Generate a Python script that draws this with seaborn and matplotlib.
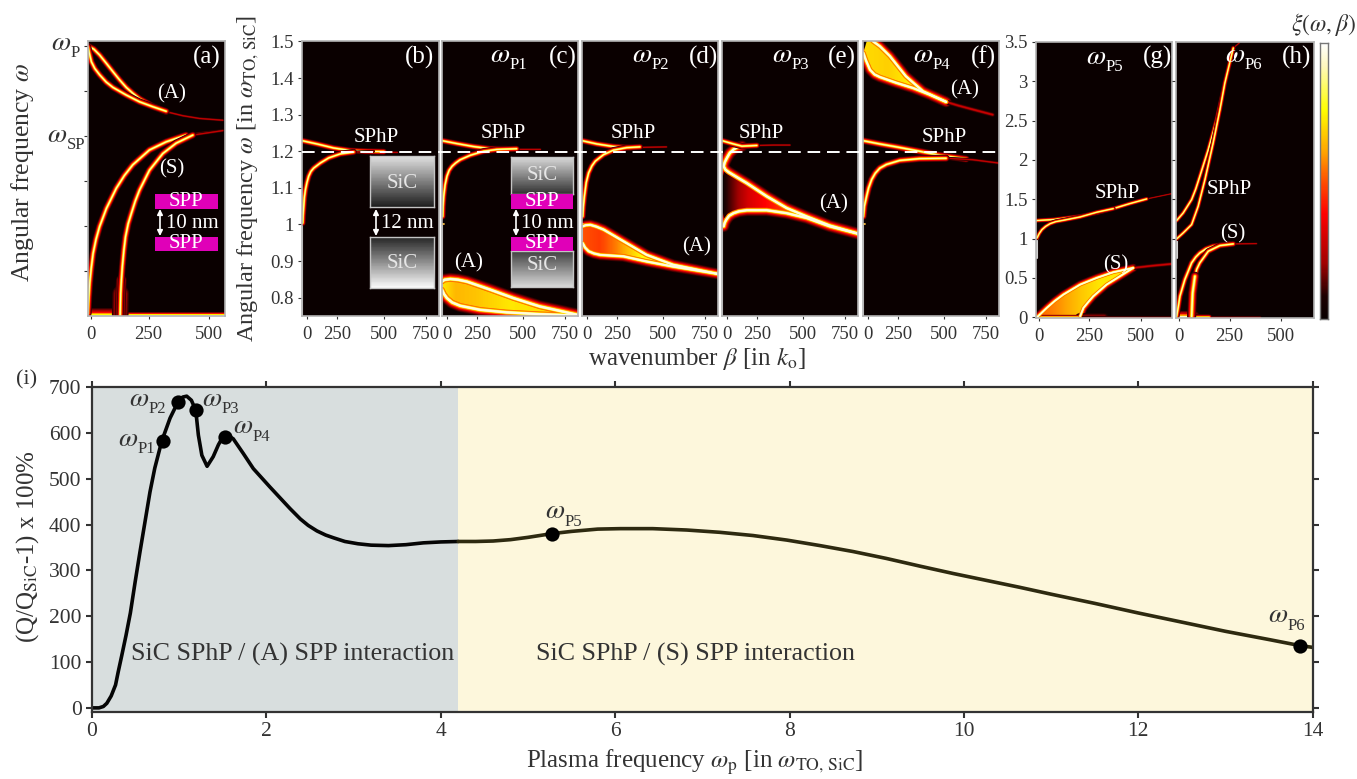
import numpy as np
import matplotlib
matplotlib.use('Agg')
import matplotlib.pyplot as plt
from matplotlib.colors import LinearSegmentedColormap
from matplotlib.lines import Line2D
from matplotlib.patches import FancyArrowPatch, Polygon, Rectangle
import seaborn as sns

W, H = 1357, 779

# panel (a), y in ticks of the unlabelled axis (wP = 6, wSP = 4)
a_a1_x = [0, 24, 48, 75, 103, 130, 158, 185, 213, 268, 323, 392, 460, 557]
a_a1_y = [6.0, 5.93, 5.80, 5.62, 5.43, 5.25, 5.08, 4.95, 4.83, 4.66, 4.54, 4.45, 4.39, 4.35]
a_a2_x = [0, 5, 14, 28, 48, 75, 103, 158, 213, 268, 323]
a_a2_y = [5.98, 5.85, 5.65, 5.50, 5.36, 5.20, 5.08, 4.91, 4.76, 4.65, 4.55]
a_s1_x = [0, 3, 7, 13, 21, 33, 48, 76, 117, 150, 185, 254, 323, 405, 488, 557]
a_s1_y = [0.05, 0.40, 0.73, 1.05, 1.39, 1.70, 1.99, 2.39, 2.84, 3.12, 3.36, 3.69, 3.87, 4.02, 4.08, 4.12]
a_s2_x = [133, 135, 138, 142, 148, 155, 166, 179, 195, 213, 254, 309, 364, 433, 557]
a_s2_y = [0.02, 0.50, 0.80, 1.10, 1.45, 1.76, 2.05, 2.28, 2.55, 2.80, 3.24, 3.61, 3.84, 4.02, 4.12]

# panels (b)-(f): x in axis units 0-800, y in omega
b_u_x = [0, 88, 185, 283, 380, 478, 556]
b_u_y = [1.229, 1.220, 1.209, 1.202, 1.200, 1.199, 1.199]
b_l_x = [4, 6, 10, 14, 20, 29, 39, 52, 68, 107, 156, 224, 302, 419]
b_l_y = [1.004, 1.025, 1.050, 1.075, 1.095, 1.115, 1.132, 1.145, 1.154, 1.168, 1.182, 1.193, 1.198, 1.200]

c_u_x = [0, 88, 185, 283, 380, 478, 575]
c_u_y = [1.229, 1.221, 1.213, 1.207, 1.207, 1.207, 1.207]
c_l_x = [4, 6, 10, 18, 29, 42, 59, 80, 107, 166, 244, 322, 439]
c_l_y = [1.022, 1.050, 1.077, 1.108, 1.132, 1.148, 1.159, 1.168, 1.177, 1.189, 1.200, 1.205, 1.207]
c_a1_x = [0, 15, 49, 95, 146, 283, 419, 575, 800]
c_a1_y = [0.844, 0.849, 0.851, 0.849, 0.844, 0.822, 0.799, 0.776, 0.753]
c_a2_x = [0, 12, 29, 60, 107, 224, 380, 575, 800]
c_a2_y = [0.822, 0.810, 0.799, 0.787, 0.778, 0.767, 0.760, 0.755, 0.751]
c_fill_x = [0, 80, 200, 400, 800]
c_fill_v = [0.72, 0.64, 0.66, 0.72, 0.70]

d_u_x = [0, 88, 185, 283, 380, 497]
d_u_y = [1.229, 1.220, 1.213, 1.210, 1.211, 1.212]
d_l_x = [4, 8, 14, 25, 39, 58, 78, 127, 185, 263, 341]
d_l_y = [1.022, 1.050, 1.077, 1.115, 1.141, 1.160, 1.173, 1.191, 1.203, 1.210, 1.212]
d_a1_x = [4, 22, 49, 85, 127, 244, 380, 536, 800]
d_a1_y = [0.995, 0.998, 0.999, 0.994, 0.986, 0.954, 0.917, 0.890, 0.865]
d_a2_x = [4, 18, 39, 70, 107, 244, 380, 536, 800]
d_a2_y = [0.949, 0.937, 0.927, 0.921, 0.917, 0.913, 0.899, 0.885, 0.865]
d_fill_x = [0, 100, 200, 350, 800]
d_fill_v = [0.50, 0.47, 0.56, 0.76, 0.80]

e_u_x = [0, 68, 117, 205, 302, 400]
e_u_y = [1.229, 1.220, 1.214, 1.216, 1.217, 1.217]
e_a1_x = [117, 90, 68, 45, 29, 16, 10, 20, 39, 85, 146, 263, 380, 497, 634, 800]
e_a1_y = [1.214, 1.211, 1.205, 1.195, 1.182, 1.170, 1.159, 1.150, 1.143, 1.130, 1.113, 1.077, 1.045, 1.022, 0.997, 0.975]
e_a2_x = [10, 16, 25, 42, 68, 100, 146, 263, 380, 497, 634, 800]
e_a2_y = [0.995, 1.005, 1.013, 1.024, 1.031, 1.036, 1.039, 1.039, 1.031, 1.018, 0.995, 0.975]
e_fill_x = [0, 60, 150, 300, 500, 800]
e_fill_v = [0.05, 0.15, 0.30, 0.42, 0.60, 0.75]

f_u_x = [0, 99, 197, 333, 450, 607, 796]
f_u_y = [1.229, 1.220, 1.212, 1.200, 1.189, 1.179, 1.168]
f_l_x = [2, 8, 21, 33, 51, 72, 99, 138, 216, 333, 489, 645, 796]
f_l_y = [1.022, 1.050, 1.077, 1.100, 1.123, 1.140, 1.154, 1.164, 1.175, 1.180, 1.181, 1.177, 1.168]
f_a1_x = [31, 60, 99, 158, 252, 353, 489]
f_a1_y = [1.515, 1.500, 1.487, 1.460, 1.405, 1.364, 1.335]
f_a2_x = [2, 18, 41, 68, 99, 197, 294, 392, 489]
f_a2_y = [1.469, 1.448, 1.423, 1.410, 1.403, 1.387, 1.373, 1.355, 1.335]
f_tail_x = [489, 560, 640, 763]
f_tail_y = [1.335, 1.325, 1.315, 1.300]
f_fill_x = [0, 150, 300, 500]
f_fill_v = [0.70, 0.68, 0.74, 0.78]

# panels (g), (h)
g_u_x = [-11, 75, 205, 286, 367, 448, 530, 654]
g_u_y = [1.229, 1.242, 1.284, 1.326, 1.381, 1.445, 1.504, 1.572]
g_l_x = [-6, 5, 18, 36, 58, 85, 123, 205, 286, 367]
g_l_y = [1.008, 1.065, 1.114, 1.155, 1.190, 1.215, 1.233, 1.275, 1.335, 1.381]
g_s1_x = [-6, 42, 80, 123, 205, 286, 367, 464]
g_s1_y = [0.0, 0.119, 0.205, 0.288, 0.415, 0.500, 0.572, 0.627]
g_s2_x = [205, 221, 245, 269, 334, 399, 464]
g_s2_y = [0.013, 0.119, 0.195, 0.267, 0.415, 0.521, 0.627]
g_tail_x = [464, 560, 654]
g_tail_y = [0.627, 0.655, 0.678]
g_fill_x = [0, 100, 200, 300, 654]
g_fill_v = [0.52, 0.58, 0.66, 0.72, 0.74]

h_u_x = [-8, 24, 65, 85, 105, 146, 187, 227, 268, 297]
h_u_y = [1.229, 1.326, 1.496, 1.630, 1.792, 2.131, 2.513, 2.979, 3.424, 3.487]
h_l_x = [-8, 24, 65, 97, 130, 170, 203, 227, 268, 297]
h_l_y = [0.996, 1.072, 1.178, 1.411, 1.750, 2.216, 2.640, 2.979, 3.424, 3.487]
h_s1_x = [-8, 0, 8, 32, 65, 85, 105, 135, 170, 252, 381]
h_s1_y = [0.01, 0.130, 0.267, 0.479, 0.691, 0.765, 0.818, 0.870, 0.903, 0.932, 0.936]
h_s2_x = [65, 70, 81, 90, 105, 146, 203, 268]
h_s2_y = [0.01, 0.309, 0.521, 0.610, 0.691, 0.839, 0.911, 0.932]

# panel (i)
i_left_x = [0, 0.08, 0.13, 0.17, 0.22, 0.27, 0.30, 0.34, 0.39, 0.44, 0.495, 0.55, 0.608, 0.665, 0.72, 0.80, 0.895,
            0.985, 1.04, 1.086, 1.14, 1.19, 1.22, 1.26, 1.32, 1.39, 1.45, 1.506, 1.56, 1.62, 1.735, 1.85, 2.04,
            2.27, 2.39, 2.48, 2.58, 2.68, 2.77, 2.9, 3.05, 3.2, 3.4, 3.6, 3.8, 4.0, 4.2]
i_left_y = [0, 0, 3, 10, 26, 50, 78, 113, 158, 207, 275, 340, 406, 471, 523, 582, 632,
            667, 678, 680, 671, 649, 595, 551, 527, 548, 574, 593, 594, 587, 555, 522, 482,
            435, 412, 398, 386, 377, 371, 363, 358, 355, 354, 356, 360, 362, 363]
i_right_x = [4.2, 4.4, 4.6, 4.8, 5.0, 5.27, 5.5, 5.8, 6.06, 6.43, 6.82, 7.2, 7.58, 7.97, 8.35, 8.73, 9.11, 9.5,
             9.88, 10.26, 10.64, 11.0, 11.5, 12.0, 12.5, 13.0, 13.5, 13.85, 14.0]
i_right_y = [363, 363, 364, 367, 372, 380, 385, 390, 391, 391, 388, 383, 376, 366, 354, 341, 326, 309,
             293, 278, 263, 248, 228, 207, 187, 167, 149, 136, 132]
omega_p_x = [0.81, 0.985, 1.19, 1.52, 5.27, 13.85]
omega_p_y = [582, 668, 650, 592, 380, 136]
i_x_ticks = [0, 2, 4, 6, 8, 10, 12, 14]
i_y_ticks = [0, 100, 200, 300, 400, 500, 600, 700]

heat_stops = [0.0, 0.08, 0.2, 0.38, 0.5, 0.6, 0.76, 0.92, 1.0]
heat_colors = ['#080000', '#1c0000', '#a00000', '#ff0000', '#ff5000', '#ffa000', '#ffff00', '#fff8c0', '#ffffff']
glow_widths = [6.0, 5.2, 4.4, 3.8, 3.2, 2.6, 2.0, 1.4, 0.9]
glow_levels = [0.10, 0.15, 0.20, 0.30, 0.38, 0.50, 0.62, 0.76, 0.92]
fade_widths = [2.6, 1.9, 1.3, 0.8]
fade_levels = [0.08, 0.12, 0.18, 0.28]

TEXT = '#333333'
PANEL_BG = '#0a0000'

sns.set_theme(style='ticks', rc={'mathtext.fontset': 'stix'})
plt.rcParams['font.family'] = ['Liberation Serif', 'DejaVu Serif']
plt.rcParams['text.color'] = TEXT

heat = LinearSegmentedColormap.from_list('heat', list(zip(heat_stops, heat_colors)))
GLOW = [(w, heat(v)) for w, v in zip(glow_widths, glow_levels)]
FADE = [(w, heat(v)) for w, v in zip(fade_widths, fade_levels)]

fig = plt.figure(figsize=(W / 100, H / 100), dpi=100, facecolor='white')


def box(l, t, r, b):
    return [l / W, 1 - b / H, (r - l) / W, (b - t) / H]


def label(x, y, s, size=14, color='white', **kw):
    fig.text(x / W, 1 - y / H, s, fontsize=size, color=color, ha=kw.pop('ha', 'center'), va='center', **kw)


def omega(x, y, sub, color='white'):
    label(x, y, r'$\omega$', size=20, color=color)
    label(x + 10, y + 10, sub, size=12, color=color, ha='left')


def stroke(ax, xs, ys, layers, scale=1.0, zorder=2):
    for lw, c in layers:
        sns.lineplot(x=xs, y=ys, ax=ax, sort=False, estimator=None, errorbar=None, color=c,
                     linewidth=lw * scale, legend=False, zorder=zorder, solid_capstyle='round')


def glow(ax, xs, ys, scale=1.0, split=None):
    # split = index where the band fades out
    if split is None:
        stroke(ax, xs, ys, GLOW, scale)
    else:
        stroke(ax, xs[split:], ys[split:], FADE, scale)
        stroke(ax, xs[:split + 1], ys[:split + 1], GLOW, scale)


def lobe(ax, x1, y1, x2, y2, fill_x, fill_v, ylim, scale=1.6, start=0):
    for lw, c in GLOW[:5]:
        stroke(ax, x1, y1, [(lw, c)], scale, 1)
        stroke(ax, x2, y2, [(lw, c)], scale, 1)
    # band interior, clipped to the two edges
    px = list(x1[start:]) + list(x2)[::-1]
    py = list(y1[start:]) + list(y2)[::-1]
    grid = np.linspace(min(px), max(px), 200)
    vals = np.interp(grid, fill_x, fill_v).reshape(1, -1)
    im = ax.imshow(vals, extent=[grid[0], grid[-1], ylim[0], ylim[1]], cmap=heat, vmin=0, vmax=1,
                   aspect='auto', origin='lower', zorder=1.5)
    im.set_clip_path(Polygon(np.c_[px, py], transform=ax.transData))
    for lw, c in GLOW[5:] + [(1.1, '#fffbe0')]:
        stroke(ax, x1, y1, [(lw, c)], scale, 2)
        stroke(ax, x2, y2, [(lw, c)], scale, 2)


def panel(rect, xlim, ylim, xticks, xlabels):
    ax = fig.add_axes(box(*rect))
    ax.set_facecolor(PANEL_BG)
    ax.set_xlim(*xlim)
    ax.set_ylim(*ylim)
    ax.set_xticks(xticks, xlabels)
    ax.tick_params(axis='x', length=2, width=0.8, pad=5, labelsize=13.5, colors=TEXT)
    ax.tick_params(axis='y', length=3, width=0.8, pad=3, labelsize=13.5, colors=TEXT)
    for s in ax.spines.values():
        s.set_color('#b4b4b4')
        s.set_linewidth(1.2)
    return ax


def edge_line(ax, x, y0, y1):
    sns.lineplot(x=[x, x], y=[y0, y1], ax=ax, color='#cfcfcf', linewidth=1.5, estimator=None, legend=False)
    sns.lineplot(x=[x, x + 7], y=[y1, y1], ax=ax, color='#ffc040', linewidth=1.3, estimator=None, legend=False)


def finish(ax, xlim, ylim):
    ax.set_xlim(*xlim)
    ax.set_ylim(*ylim)


xt = [29, 205, 478, 722]
xl = ['0', '250', '500', '750']
lim_w = (0.75, 1.5)
xlim = (0, 800)

# (a)
a_xlim, a_ylim = (0, 566), (0, 6.1)
ax = panel((88, 41.5, 225, 316), a_xlim, a_ylim, [14, 250, 500], ['0', '250', '500'])
ax.set_yticks([1, 2, 3, 4, 5, 6], [])
stroke(ax, [0, 133], [0.0, 0.0], GLOW, 2.0)
glow(ax, [133, 400, 566], [0.03, 0.03, 0.03], 0.8)
stroke(ax, a_s2_x[:2], a_s2_y[:2], GLOW, 2.0)
stroke(ax, a_s2_x[:3], a_s2_y[:3], GLOW, 1.3)
glow(ax, a_a1_x, a_a1_y, 0.8, split=10)
glow(ax, a_a2_x, a_a2_y, 0.8)
glow(ax, a_s1_x, a_s1_y, 0.85, split=13)
glow(ax, a_s2_x, a_s2_y, 0.85, split=13)
finish(ax, a_xlim, a_ylim)

# (b)
ax = panel((302, 41.5, 439, 316), xlim, lim_w, xt, xl)
ax.set_yticks([0.8, 0.9, 1, 1.1, 1.2, 1.3, 1.4, 1.5], ['0.8', '0.9', '1', '1.1', '1.2', '1.3', '1.4', '1.5'])
edge_line(ax, 2, 0.75, 1.0)
glow(ax, b_u_x, b_u_y, 0.75, split=5)
glow(ax, b_l_x, b_l_y, 0.75, split=12)
finish(ax, xlim, lim_w)

# (c)
ax = panel((442, 41.5, 578, 316), xlim, lim_w, xt, xl)
ax.set_yticks([])
edge_line(ax, 2, 0.75, 1.0)
lobe(ax, c_a1_x, c_a1_y, c_a2_x, c_a2_y, c_fill_x, c_fill_v, lim_w, 1.5)
glow(ax, c_u_x, c_u_y, 0.75, split=4)
glow(ax, c_l_x, c_l_y, 0.75)
finish(ax, xlim, lim_w)

# (d)
ax = panel((582, 41.5, 718, 316), xlim, lim_w, xt, xl)
ax.set_yticks([])
edge_line(ax, 2, 0.75, 1.0)
lobe(ax, d_a1_x, d_a1_y, d_a2_x, d_a2_y, d_fill_x, d_fill_v, lim_w, 1.3)
glow(ax, d_u_x, d_u_y, 0.75, split=3)
glow(ax, d_l_x, d_l_y, 0.75)
finish(ax, xlim, lim_w)

# (e)
ax = panel((722, 41.5, 858, 316), xlim, lim_w, xt, xl)
ax.set_yticks([])
edge_line(ax, 2, 0.75, 1.0)
lobe(ax, e_a1_x, e_a1_y, e_a2_x, e_a2_y, e_fill_x, e_fill_v, lim_w, 1.4, start=6)
glow(ax, e_u_x, e_u_y, 0.75, split=3)
finish(ax, xlim, lim_w)

# (f)
ax = panel((863, 41.5, 999, 316), xlim, lim_w, xt, xl)
ax.set_yticks([])
edge_line(ax, 2, 0.75, 1.0)
stroke(ax, f_tail_x, f_tail_y, FADE, 1.3)
lobe(ax, f_a1_x, f_a1_y, f_a2_x, f_a2_y, f_fill_x, f_fill_v, lim_w, 1.3)
glow(ax, f_u_x, f_u_y, 0.85, split=5)
glow(ax, f_l_x, f_l_y, 0.85, split=10)
finish(ax, xlim, lim_w)

# (g)
g_xlim, g_ylim = (-11, 654), (-0.01, 3.5)
ax = panel((1036, 42, 1172, 318), g_xlim, g_ylim, [2, 250, 500], ['0', '250', '500'])
ax.set_yticks([0, 0.5, 1, 1.5, 2, 2.5, 3, 3.5], ['0', '0.5', '1', '1.5', '2', '2.5', '3', '3.5'])
stroke(ax, [200, 320], [0.0, 0.0], FADE, 2.4)
glow(ax, [-11, 205, 654], [0.005, 0.005, 0.005], 0.6, split=1)
edge_line(ax, -8, 0.75, 1.0)
stroke(ax, g_tail_x, g_tail_y, FADE, 1.2)
lobe(ax, g_s1_x, g_s1_y, g_s2_x, g_s2_y, g_fill_x, g_fill_v, g_ylim, 1.0)
glow(ax, g_u_x, g_u_y, 0.55, split=6)
glow(ax, g_l_x, g_l_y, 0.55)
finish(ax, g_xlim, g_ylim)

# (h)
h_xlim, h_ylim = (-11, 661), (-0.01, 3.5)
ax = panel((1176, 42, 1314, 318), h_xlim, h_ylim, [2, 250, 500], ['0', '250', '500'])
ax.set_yticks([0.5, 1, 1.5, 2, 2.5, 3], [])
stroke(ax, [-11, 70], [0.0, 0.0], GLOW, 1.6)
glow(ax, [70, 150, 400], [0.005, 0.005, 0.005], 0.7, split=1)
edge_line(ax, -8, 0.75, 1.0)
glow(ax, h_u_x, h_u_y, 0.55, split=8)
glow(ax, h_l_x, h_l_y, 0.55, split=8)
glow(ax, h_s1_x, h_s1_y, 0.7, split=9)
glow(ax, h_s2_x, h_s2_y, 0.7)
stroke(ax, h_s2_x[:3], h_s2_y[:3], GLOW, 1.1)
finish(ax, h_xlim, h_ylim)

# colour bar
cax = fig.add_axes(box(1319.5, 43, 1328, 319))
levels = np.linspace(1, 0, 256).reshape(-1, 1)
sns.heatmap(levels, cmap=heat, vmin=0, vmax=1, cbar=False, xticklabels=False, yticklabels=False, ax=cax)
for s in cax.spines.values():
    s.set_visible(True)
    s.set_color('#777777')
    s.set_linewidth(1.0)
cax.set_yticks([51, 102, 154, 205], [])
cax.tick_params(axis='y', left=False, right=True, direction='in', length=1.5, width=0.8, color='#333333')


# insets
def sic(rect, top, bottom):
    iax = fig.add_axes(box(*rect), zorder=2)
    sns.heatmap(np.linspace(top, bottom, 64).reshape(-1, 1), cmap='gray', vmin=0, vmax=1, cbar=False,
                xticklabels=False, yticklabels=False, ax=iax)
    for s in iax.spines.values():
        s.set_visible(True)
        s.set_color('#c4c4c4')
        s.set_linewidth(1.0)


def spp(l, t, r, b):
    fig.add_artist(Rectangle((l / W, 1 - b / H), (r - l) / W, (b - t) / H, transform=fig.transFigure,
                             facecolor='#e000b8', edgecolor='none', zorder=2.5))
    label((l + r) / 2, (t + b) / 2, 'SPP', size=15)


def gap(x_arrow, x_text, s):
    fig.add_artist(FancyArrowPatch((x_arrow / W, 1 - 209 / H), (x_arrow / W, 1 - 236 / H), transform=fig.transFigure,
                                   arrowstyle='<|-|>', mutation_scale=8, color='white', lw=1.2,
                                   shrinkA=0, shrinkB=0, zorder=3))
    label(x_text, 223, s, size=15)


spp(155, 194, 218, 209)
spp(155, 237, 218, 251)
gap(160, 192, '10 nm')

sic((370.5, 156, 434, 207), 0.88, 0.12)
sic((370.5, 237, 434, 288), 0.15, 0.98)
label(402, 183, 'SiC', size=15, color='#e6e6e6')
label(402, 263, 'SiC', size=15, color='#e6e6e6')
gap(376, 407, '12 nm')

sic((511, 157, 573, 194), 0.85, 0.2)
sic((511, 251, 573, 287), 0.25, 0.85)
spp(511, 194, 573, 209)
spp(511, 237, 573, 251)
label(542, 176, 'SiC', size=15, color='#e6e6e6')
label(542, 265, 'SiC', size=15, color='#e6e6e6')
gap(516, 547, '10 nm')

# dashed omega_sp line
fig.add_artist(Line2D([302 / W, 999 / W], [1 - 151.5 / H] * 2, transform=fig.transFigure, color='white',
                      lw=1.4, linestyle=(0, (6.5, 3.5)), zorder=3))

# panel letters
for x, s in zip([207, 419, 563, 703, 842, 983, 1158, 1297], 'abcdefgh'):
    label(x, 57, '(%s)' % s, size=18)

# band names
for x, y in [(376, 137), (503, 134), (633, 134), (761, 134), (944, 138), (1117, 193), (1229, 190)]:
    label(x, y, 'SPhP', size=15)
for x, y in [(172, 94), (469, 263), (697, 247), (834, 204), (965, 90)]:
    label(x, y, '(A)', size=15)
for x, y in [(172, 169), (1116, 265), (1233, 234)]:
    label(x, y, '(S)', size=15)
for x, y, s in zip([500, 642, 782, 923, 1096, 1235], [55, 55, 55, 55, 57, 55], ['P1', 'P2', 'P3', 'P4', 'P5', 'P6']):
    omega(x, y, s)

omega(61, 43, 'P', TEXT)
omega(57, 135, 'SP', TEXT)
label(23, 172, r'Angular frequency $\omega$', size=18.5, color=TEXT, rotation=90)
label(248, 178, r'Angular frequency $\omega$ [in $\omega_{\mathrm{TO,\,SiC}}$]', size=17.5, color=TEXT, rotation=90)
label(697, 359, r'wavenumber $\beta$ [in $k_{\mathrm{o}}$]', size=18, color=TEXT)
label(1323, 25, r'$\xi(\omega,\beta)$', size=17, color=TEXT)

# (i)
ax = fig.add_axes(box(92, 387, 1312.7, 712))
ax.axvspan(0, 4.2, color='#d8dede', lw=0)
ax.axvspan(4.2, 14, color='#fdf7dc', lw=0)
sns.lineplot(x=i_left_x, y=i_left_y, ax=ax, color='#050505', linewidth=2.6, sort=False, estimator=None, legend=False)
sns.lineplot(x=i_right_x, y=i_right_y, ax=ax, color='#2e2a10', linewidth=2.6, sort=False, estimator=None, legend=False)
sns.scatterplot(x=omega_p_x, y=omega_p_y, ax=ax, color='black', s=105, linewidth=0, zorder=4, clip_on=False, legend=False)
ax.set_xlim(0, 14)
ax.set_ylim(-9, 700)
ax.set_xticks(i_x_ticks)
ax.set_yticks(i_y_ticks)
ax.tick_params(top=True, right=True, direction='out', length=4.5, width=1.5, color='#333333',
               labelsize=15.5, labelcolor=TEXT, pad=3)
for s in ax.spines.values():
    s.set_visible(True)
    s.set_color('#333333')
    s.set_linewidth(1.6)

label(27, 380, '(i)', size=16, color=TEXT)
omega(128, 439, 'P1', TEXT)
omega(139, 399, 'P2', TEXT)
omega(212, 399, 'P3', TEXT)
omega(243, 427, 'P4', TEXT)
omega(555, 512, 'P5', TEXT)
omega(1278, 616, 'P6', TEXT)
label(293, 654, 'SiC SPhP / (A) SPP interaction', size=18.7, color=TEXT)
label(695, 654, 'SiC SPhP / (S) SPP interaction', size=18.7, color=TEXT)
label(695, 762, r'Plasma frequency $\omega_{\mathrm{p}}$ [in $\omega_{\mathrm{TO,\,SiC}}$]', size=18, color=TEXT)
label(28, 547, r'(Q/Q$_{\mathrm{SiC}}$-1) x 100%', size=18, color=TEXT, rotation=90)

fig.savefig('out.png', dpi=100)
